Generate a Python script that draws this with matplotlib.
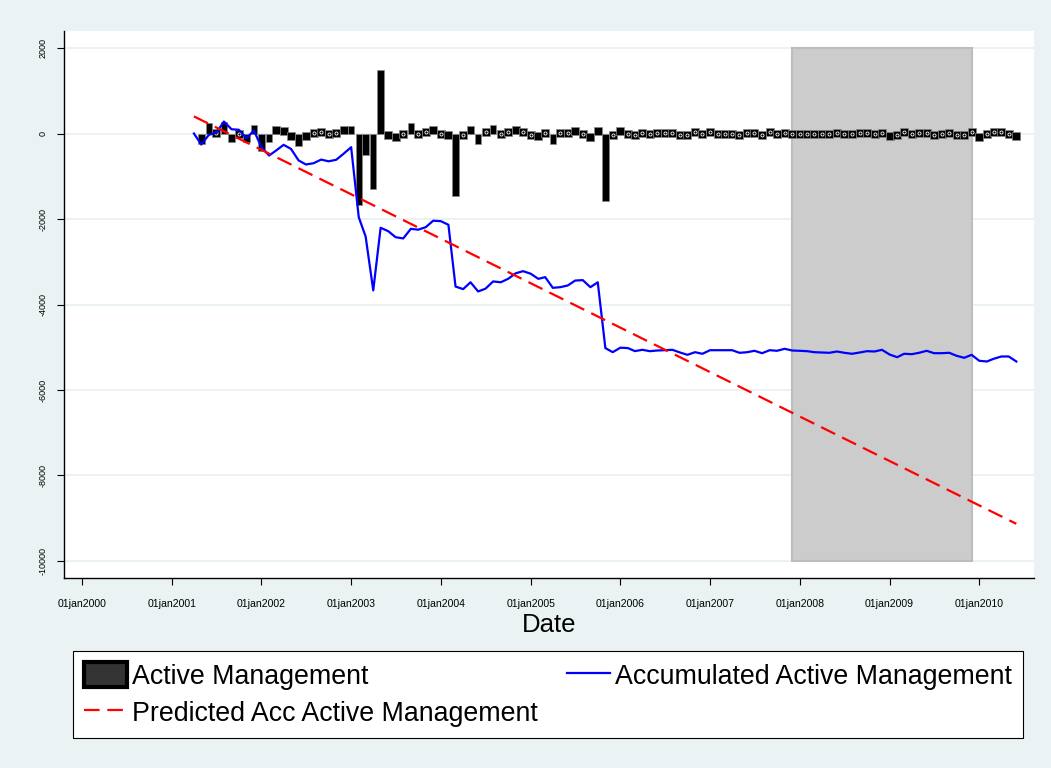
import numpy as np
import pandas as pd
import matplotlib
matplotlib.use('Agg')
import matplotlib.pyplot as plt
from matplotlib.patches import Patch
from matplotlib.lines import Line2D

plt.rcParams['font.family'] = ['Liberation Sans', 'DejaVu Sans']
plt.rcParams['axes.unicode_minus'] = False


### DATA ====

# monthly observations, Apr 2001 - Jun 2010
dates = pd.date_range('2001-04-01', periods=111, freq='MS')

active = [
    np.nan, -250, 250, 20, 280, -190, -10, -200, 190, -420,
    -210, 150, 140, -110, -300, -110, 30, 70, -30, 30,
    150, 170, -1680, -500, -1300, 1480, -90, -150, -30, 240,
    -20, 60, 160, -10, -90, -1470, -60, 180, -240, 80,
    190, -20, 75, 150, 50, -60, -130, 35, -250, 10,
    40, 115, 0, -165, 120, -1580, -80, 100, 0, -60,
    30, -32, 16, 7, 9, -63, -54, 61, -37, 84,
    0, 0, 0, -61, 14, 33, -56, 70, -14, 47,
    -40, -7, -9, -24, -7, -7, 31, -31, -23, 30,
    31, -7, 39, -110, -63, 80, -9, 32, 47, -56,
    0, 9, -70, -47, 70, -140, -16, 63, 54, 0,
    -117,
]

accumulated = [
    0, -257, -30, 16, 280, 100, 87, -110, 70, -320,
    -515, -400, -265, -360, -630, -725, -695, -610, -650, -615,
    -475, -320, -1958, -2410, -3670, -2205, -2285, -2425, -2455, -2230,
    -2250, -2190, -2040, -2050, -2135, -3580, -3640, -3480, -3695, -3630,
    -3460, -3480, -3400, -3270, -3220, -3280, -3400, -3360, -3610, -3595,
    -3555, -3440, -3430, -3595, -3480, -5020, -5115, -5010, -5020, -5090,
    -5060, -5092, -5076, -5069, -5060, -5123, -5177, -5116, -5153, -5069,
    -5069, -5069, -5069, -5130, -5116, -5083, -5139, -5069, -5083, -5036,
    -5076, -5083, -5092, -5116, -5123, -5130, -5099, -5130, -5153, -5123,
    -5092, -5099, -5060, -5170, -5233, -5153, -5162, -5130, -5083, -5139,
    -5139, -5130, -5200, -5247, -5177, -5317, -5333, -5270, -5216, -5216,
    -5333,
]

# linear prediction, end points
pred_dates = pd.to_datetime(['2001-04-01', '2010-06-01'])
predicted = [400, -9130]

# shaded period
shade_start = pd.Timestamp('2007-12-01')
shade_end = pd.Timestamp('2009-12-01')
shade_top, shade_bottom = 2000, -10000

yticks = [2000, 0, -2000, -4000, -6000, -8000, -10000]
xticks = pd.date_range('2000-01-01', '2010-01-01', freq='YS')


### PLOT ====

bg = '#EAF2F3'
fig = plt.figure(figsize=(10.51, 7.68), dpi=100, facecolor=bg)
ax = fig.add_axes([64 / 1051, 1 - 578 / 768, 970 / 1051, 547 / 768])
ax.set_facecolor('white')

ax.set_xlim(pd.Timestamp('1999-10-20'), pd.Timestamp('2010-08-12'))
ax.set_ylim(-10398, 2398)

# grid lines
for y in yticks:
    ax.axhline(y, color=bg, lw=1.4, zorder=0)

# shaded region
ax.bar(shade_start, shade_top - shade_bottom, bottom=shade_bottom,
       width=(shade_end - shade_start).days, align='edge',
       color='#CCCCCC', edgecolor='#BDBDBD', lw=1.5, zorder=1)

# bars; small values still show as a little box around zero
act = np.array(active, dtype=float)
ok = ~np.isnan(act)
ax.bar(dates[ok], act[ok], width=26, color='black', edgecolor='#8a8a8a',
       lw=0.5, zorder=2)
boxed = ok & (np.abs(act) < 170)
ax.scatter(dates[boxed], act[boxed] / 2, marker='s', s=26, c='black',
           edgecolors='#8a8a8a', linewidths=0.5, zorder=2.5)
small = ok & (np.abs(act) < 90)
ax.scatter(dates[small], act[small] / 2, s=5, marker='o', facecolor='black',
           edgecolor='white', lw=0.6, zorder=3)

# lines
ax.plot(dates, accumulated, color='#0000FF', lw=1.6, zorder=4)
ax.plot(pred_dates, predicted, color='#FF0000', lw=1.6, dashes=(7, 3.5), zorder=5)

# axes
for s in ['top', 'right']:
    ax.spines[s].set_visible(False)
for s in ['left', 'bottom']:
    ax.spines[s].set_linewidth(1)
ax.set_yticks(yticks)
ax.set_yticklabels([str(v) for v in yticks], rotation=90, va='center')
ax.set_xticks(xticks)
ax.set_xticklabels([d.strftime('%d%b%Y').lower() for d in xticks])
ax.tick_params(direction='out', length=5, width=0.8)
ax.tick_params(axis='y', labelsize=6.5, pad=7)
ax.tick_params(axis='x', labelsize=7.6, pad=10)
ax.set_xlabel('Date', fontsize=18.5, labelpad=3)

# legend
h_bar = Patch(facecolor='#333333', edgecolor='black', lw=3)
h_blue = Line2D([], [], color='#0000FF', lw=1.6)
h_red = Line2D([], [], color='#FF0000', lw=1.6, dashes=(7, 3.5))
leg = fig.legend([h_bar, h_red, h_blue],
                 ['Active Management', 'Predicted Acc Active Management',
                  'Accumulated Active Management'],
                 ncol=2, loc='lower left', mode='expand',
                 bbox_to_anchor=(73 / 1051, 1 - 738 / 768, 950 / 1051, 86 / 768),
                 fontsize=19.3, handlelength=1.6, handleheight=1.1,
                 handletextpad=0.2, labelspacing=0.36, borderaxespad=0,
                 borderpad=0.4, fancybox=False, edgecolor='black',
                 framealpha=1)
leg.get_frame().set_linewidth(0.8)

fig.savefig('out.png', dpi=100, facecolor=bg)
